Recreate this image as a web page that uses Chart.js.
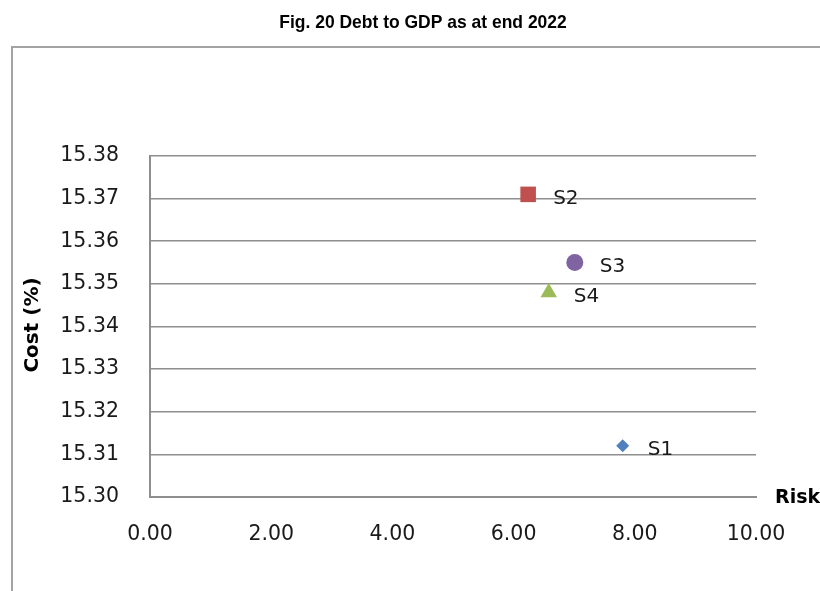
<!DOCTYPE html>
<html>
<head>
<meta charset="utf-8">
<script src="https://cdn.jsdelivr.net/npm/chart.js@4.4.1/dist/chart.umd.min.js"></script>
<style>
  html, body { margin: 0; padding: 0; background: #ffffff; }
  #wrap { width: 820px; height: 591px; position: relative; }
</style>
</head>
<body>
<div id="wrap"><canvas id="c" width="820" height="591"></canvas></div>
<script>
// Debt strategies: risk vs cost
const strategies = ['S1', 'S2', 'S3', 'S4'];
const riskValues = [7.80, 6.24, 7.01, 6.58];
const costValues = [15.312, 15.371, 15.355, 15.348];
const markerColors = ['#4F81BD', '#C0504D', '#8064A2', '#9BBB59'];
const markerStyles = ['rectRot', 'rect', 'circle', 'triangle'];
const markerRadii = [6.5, 11, 8.5, 9.5];

const chartTitle = 'Fig. 20 Debt to GDP as at end 2022';
const yAxisTitle = 'Cost (%)';
const xAxisTitle = 'Risk';

const gridColor = '#8e8e8e';
const textColor = '#1a1a1a';
const tickFont = { family: '"DejaVu Sans", Verdana, sans-serif', size: 20.5 };

const datasets = strategies.map((name, i) => ({
  label: name,
  data: [{ x: riskValues[i], y: costValues[i] }],
  backgroundColor: markerColors[i],
  borderColor: markerColors[i],
  borderWidth: 0,
  pointStyle: markerStyles[i],
  pointRadius: markerRadii[i],
  pointHoverRadius: markerRadii[i]
}));

const decorPlugin = {
  id: 'decor',
  beforeDraw(chart) {
    const ctx = chart.ctx;
    ctx.save();
    ctx.fillStyle = '#ffffff';
    ctx.fillRect(0, 0, chart.width, chart.height);
    // outer frame
    ctx.strokeStyle = '#a3a3a3';
    ctx.lineWidth = 2;
    ctx.beginPath();
    ctx.moveTo(12, chart.height + 2);
    ctx.lineTo(12, 47);
    ctx.lineTo(chart.width + 2, 47);
    ctx.stroke();
    ctx.restore();
  },
  afterDatasetsDraw(chart) {
    const ctx = chart.ctx;
    ctx.save();
    ctx.fillStyle = textColor;
    ctx.font = '20px "DejaVu Sans", Verdana, sans-serif';
    ctx.textAlign = 'left';
    ctx.textBaseline = 'middle';
    chart.data.datasets.forEach((ds, i) => {
      const pt = chart.getDatasetMeta(i).data[0];
      ctx.fillText(ds.label, pt.x + 25, pt.y + 4);
    });
    ctx.restore();
  },
  afterDraw(chart) {
    const ctx = chart.ctx;
    const area = chart.chartArea;
    ctx.save();
    ctx.fillStyle = '#000000';
    // title, set in a condensed bold face
    ctx.save();
    ctx.font = 'bold 19px "Liberation Sans", Arial, sans-serif';
    ctx.textAlign = 'center';
    ctx.textBaseline = 'middle';
    ctx.translate(423, 23);
    ctx.scale(0.92, 1);
    ctx.fillText(chartTitle, 0, 0);
    ctx.restore();
    // axis titles
    ctx.font = 'bold 19px "DejaVu Sans", Verdana, sans-serif';
    ctx.textAlign = 'left';
    ctx.textBaseline = 'middle';
    ctx.fillText(xAxisTitle, area.right + 19, area.bottom + 1);
    ctx.font = 'bold 20px "DejaVu Sans", Verdana, sans-serif';
    ctx.translate(33, 325);
    ctx.rotate(-Math.PI / 2);
    ctx.textAlign = 'center';
    ctx.fillText(yAxisTitle, 0, 0);
    ctx.restore();
  }
};

new Chart(document.getElementById('c'), {
  type: 'scatter',
  data: { datasets },
  options: {
    responsive: false,
    animation: false,
    layout: { padding: { top: 156, right: 64, left: 0, bottom: 0 } },
    plugins: {
      legend: { display: false },
      title: { display: false },
      tooltip: { enabled: false }
    },
    scales: {
      x: {
        type: 'linear',
        min: 0,
        max: 10,
        ticks: {
          stepSize: 2,
          color: textColor,
          font: tickFont,
          padding: 25,
          maxRotation: 0,
          callback: v => v.toFixed(2)
        },
        grid: { display: false, drawTicks: false },
        border: { display: true, color: gridColor, width: 2 },
        afterFit(scale) { scale.height = 94; }
      },
      y: {
        type: 'linear',
        min: 15.30,
        max: 15.38,
        ticks: {
          stepSize: 0.01,
          color: textColor,
          font: tickFont,
          padding: 31,
          callback: v => v.toFixed(2)
        },
        grid: { display: true, color: gridColor, lineWidth: 1.6, drawTicks: false },
        border: { display: true, color: gridColor, width: 2 },
        afterFit(scale) { scale.width = 150; }
      }
    }
  },
  plugins: [decorPlugin]
});
</script>
</body>
</html>
